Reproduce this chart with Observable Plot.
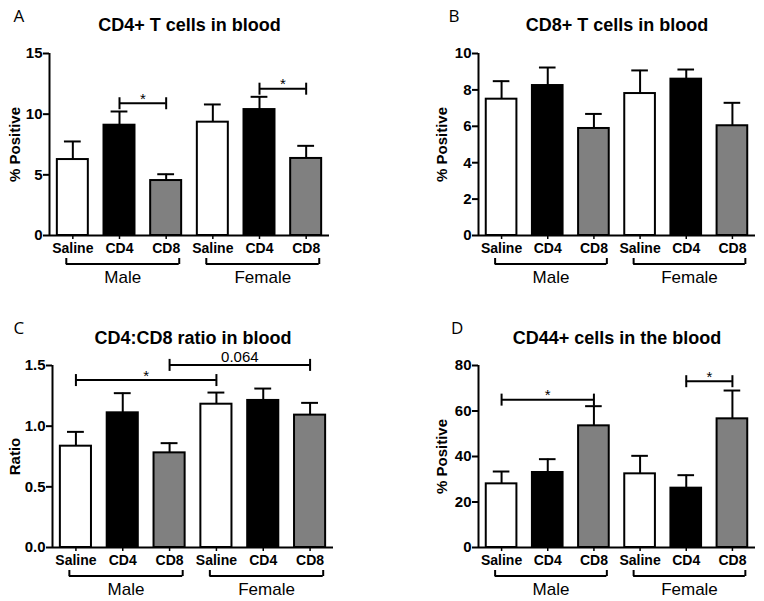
<!DOCTYPE html>
<html><head><meta charset="utf-8">
<script src="https://cdn.jsdelivr.net/npm/d3@7"></script>
<script src="https://cdn.jsdelivr.net/npm/@observablehq/plot@0.6"></script>
<style>
body{margin:0;background:#fff;}
#fig{position:relative;width:764px;height:601px;background:#fff;}
#fig svg{position:absolute;}
g[aria-label="x-axis tick label"]{font-size:14px;font-weight:bold;}
g[aria-label="y-axis tick label"]{font-size:15px;font-weight:bold;}
g[aria-label="ylabel"]{font-size:15px;font-weight:bold;}
</style></head><body><div id="fig"></div>
<script>
// ---- data ----
const categories = ["Saline","CD4","CD8","Saline","CD4","CD8"];
const treatments = ["Saline","CD4","CD8"];
const sexGroups = ["Male","Female"];
const groupFirst = [0,3];
const groupLast = [2,5];

const titles = ["CD4+ T cells in blood","CD8+ T cells in blood","CD4:CD8 ratio in blood","CD44+ cells in the blood"];
const panelLetters = ["A","B","C","D"];
const yLabels = ["% Positive","% Positive","Ratio","% Positive"];

const meanA = [6.26, 9.09, 4.53, 9.34, 10.38, 6.35];
const semA  = [1.49, 1.13, 0.52, 1.46, 1.05, 1.04];
const meanB = [7.49, 8.24, 5.88, 7.80, 8.59, 6.03];
const semB  = [0.99, 0.99, 0.80, 1.27, 0.53, 1.26];
const meanC = [0.835, 1.11, 0.78, 1.181, 1.212, 1.091];
const semC  = [0.118, 0.162, 0.08, 0.096, 0.098, 0.101];
const meanD = [27.98, 32.97, 53.48, 32.38, 26.08, 56.56];
const semD  = [5.42, 5.86, 8.64, 7.91, 5.71, 12.44];

const yTicksA = [0, 5, 10, 15];
const yTicksB = [0, 2, 4, 6, 8, 10];
const yTicksC = [0, 0.5, 1.0, 1.5];
const yTicksD = [0, 20, 40, 60, 80];

const sigA = [{from:1, to:2, y:10.9, label:"*"}, {from:4, to:5, y:12.1, label:"*"}];
const sigB = [];
const sigC = [{from:0, to:3, y:1.38, label:"*"}, {from:2, to:5, y:1.505, label:"0.064"}];
const sigD = [{from:0, to:2, y:65.0, label:"*"}, {from:4, to:5, y:73.1, label:"*"}];

// ---- drawing ----
const xDomain = [-0.5, 5.5];
const barHalf = 0.332, capHalf = 0.18;
const FONT = "'Liberation Sans', Arial, Helvetica, sans-serif";
const vTick = {draw(ctx, size){const r = Math.sqrt(size/Math.PI); ctx.moveTo(0,-r); ctx.lineTo(0,r);}};
const upTick = {draw(ctx, size){const r = Math.sqrt(size/Math.PI); ctx.moveTo(0,0); ctx.lineTo(0,-r);}};

const layouts = [
  {left:0,   top:0,   height:300, ml:49, mr:53, mt:53, mb:65, titleDy:-28,   letterDx:-36, letterDy:-37, ylabDx:-34},
  {left:382, top:0,   height:300, ml:96, mr:9,  mt:53, mb:65, titleDy:-28,   letterDx:-30, letterDy:-37, ylabDx:-36.5},
  {left:0,   top:300, height:301, ml:52, mr:49, mt:65, mb:54, titleDy:-27.3, letterDx:-39, letterDy:-36.7, ylabDx:-37.5},
  {left:382, top:300, height:301, ml:96, mr:9,  mt:65, mb:54, titleDy:-27.3, letterDx:-27.5, letterDy:-36.7, ylabDx:-36.5}
];
const panelData = [
  {mean:meanA, sem:semA, ticks:yTicksA, sig:sigA, fmt: d => d},
  {mean:meanB, sem:semB, ticks:yTicksB, sig:sigB, fmt: d => d},
  {mean:meanC, sem:semC, ticks:yTicksC, sig:sigC, fmt: d => d.toFixed(1)},
  {mean:meanD, sem:semD, ticks:yTicksD, sig:sigD, fmt: d => d}
];

function makePanel(k){
  const L = layouts[k], P = panelData[k];
  const rows = categories.map((c,i) => ({i, cat:c, mean:P.mean[i], sem:P.sem[i]}));
  const groups = sexGroups.map((g,j) => ({label:g, from:groupFirst[j], to:groupLast[j]}));
  const stars = P.sig.filter(d => d.label === "*");
  const others = P.sig.filter(d => d.label !== "*");
  const yDomain = [P.ticks[0], P.ticks[P.ticks.length-1]];
  const svg = Plot.plot({
    width:382, height:L.height,
    marginLeft:L.ml, marginRight:L.mr, marginTop:L.mt, marginBottom:L.mb,
    x:{type:"linear", domain:xDomain, axis:null},
    y:{domain:yDomain, axis:null},
    color:{domain:treatments, range:["#ffffff","#000000","#808080"]},
    style:{fontFamily:FONT, background:"white", color:"black"},
    marks:[
      Plot.ruleX(rows, {x:"i", y1:"mean", y2:d => d.mean + d.sem, stroke:"black", strokeWidth:2}),
      Plot.ruleY(rows, {x1:d => d.i - capHalf, x2:d => d.i + capHalf, y:d => d.mean + d.sem, stroke:"black", strokeWidth:2}),
      Plot.rect(rows, {x1:d => d.i - barHalf, x2:d => d.i + barHalf, y1:() => yDomain[0], y2:"mean", fill:"cat", stroke:"black", strokeWidth:2}),
      Plot.ruleX([xDomain[0]], {stroke:"black", strokeWidth:2}),
      Plot.ruleY([yDomain[0]], {stroke:"black", strokeWidth:2}),
      Plot.axisY({ticks:P.ticks, tickFormat:P.fmt, tickSize:6, tickPadding:1, fontSize:15, fontWeight:"bold", strokeWidth:2, label:null}),
      Plot.axisX({ticks:categories.map((c,i) => i), tickFormat:i => categories[i], tickSize:4, tickPadding:4, fontSize:14, fontWeight:"bold", strokeWidth:1.5, label:null}),
      // significance brackets
      Plot.ruleY(P.sig, {x1:"from", x2:"to", y:"y", stroke:"black", strokeWidth:2}),
      Plot.dot(P.sig, {x:"from", y:"y", symbol:vTick, r:6, stroke:"black", strokeWidth:2}),
      Plot.dot(P.sig, {x:"to", y:"y", symbol:vTick, r:6, stroke:"black", strokeWidth:2}),
      Plot.text(stars, {x:d => (d.from + d.to)/2, y:"y", text:"label", dy:-4.3, fontSize:15, lineAnchor:"middle"}),
      Plot.text(others, {x:d => (d.from + d.to)/2, y:"y", text:"label", dy:-7.4, fontSize:15, lineAnchor:"middle"}),
      // group brackets
      Plot.ruleY(groups, {x1:d => d.from - 0.14, x2:d => d.to + 0.28, y:() => yDomain[0], dy:28.5, stroke:"black", strokeWidth:2}),
      Plot.dot(groups, {x:d => d.from - 0.14, y:() => yDomain[0], dy:28.5, symbol:upTick, r:6, stroke:"black", strokeWidth:2}),
      Plot.dot(groups, {x:d => d.to + 0.28, y:() => yDomain[0], dy:28.5, symbol:upTick, r:6, stroke:"black", strokeWidth:2}),
      Plot.text(groups, {x:d => (d.from + d.to)/2 + 0.07, y:() => yDomain[0], dy:42, text:"label", fontSize:17, lineAnchor:"middle"}),
      // titles, labels
      Plot.text([titles[k]], {frameAnchor:"top", dy:L.titleDy, text:d => d, fontSize:18, fontWeight:"bold", lineAnchor:"middle", textAnchor:"middle"}),
      Plot.text([panelLetters[k]], {frameAnchor:"top-left", dx:L.letterDx, dy:L.letterDy, text:d => d, textAnchor:"start", lineAnchor:"middle", fontSize:17, fontFamily:"'Open Sans', sans-serif"}),
      Plot.text([yLabels[k]], {frameAnchor:"left", dx:L.ylabDx, rotate:-90, text:d => d, fontSize:15, fontWeight:"bold", textAnchor:"middle", lineAnchor:"middle", ariaLabel:"ylabel"})
    ]
  });
  svg.style.left = L.left + "px";
  svg.style.top = L.top + "px";
  return svg;
}
const fig = document.getElementById("fig");
for (let k = 0; k < 4; k++) fig.appendChild(makePanel(k));
</script></body></html>
